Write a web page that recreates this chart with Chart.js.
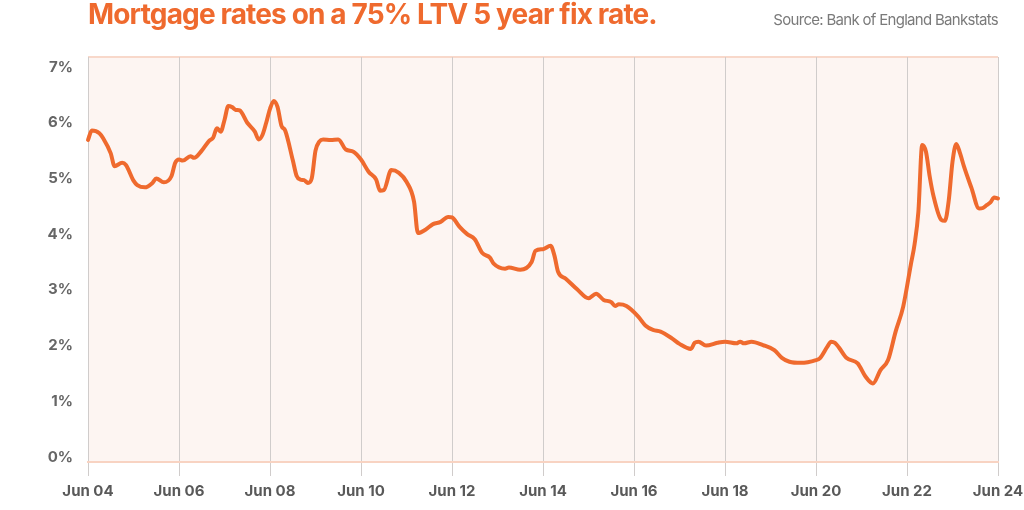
<!DOCTYPE html>
<html>
<head>
<meta charset="utf-8">
<script src="https://cdn.jsdelivr.net/npm/chart.js@4.4.1/dist/chart.umd.min.js"></script>
<style>
  html, body { margin: 0; padding: 0; background: #fff; }
  .wrap { position: relative; width: 1024px; height: 510px; }
  .title {
    position: absolute; left: 88px; top: -3px;
    font: 700 28px "Inter", sans-serif; letter-spacing: -0.85px;
    color: #ef6a2e; white-space: nowrap;
  }
  .source {
    position: absolute; right: 26px; top: 10px;
    font: 400 15px "Inter", sans-serif; letter-spacing: -0.7px;
    color: #7a7a7a; white-space: nowrap;
  }
  canvas { position: absolute; left: 0; top: 0; }
</style>
</head>
<body>
<div class="wrap">
  <canvas id="rateChart" width="1024" height="510"></canvas>
  <div class="title">Mortgage rates on a 75% LTV 5 year fix rate.</div>
  <div class="source">Source: Bank of England Bankstats</div>
</div>
<script>
// months counted from Jun 2004
const months = [
  0, 1, 3, 4, 6, 7, 9, 10, 12, 13, 15, 17, 18, 20, 22, 23, 24, 25, 27, 28,
  30, 32, 33, 34, 35, 36, 37, 38, 39, 40, 42, 44, 45, 46, 47, 48, 49, 50, 51, 52,
  54, 55, 56, 57, 58, 59, 60, 61, 62, 64, 66, 68, 70, 72, 74, 76, 77, 78, 80, 82,
  84, 86, 87, 89, 91, 93, 95, 96, 98, 100, 102, 104, 106, 107, 110, 111, 114, 117, 118, 120,
  122, 123, 124, 126, 129, 132, 134, 136, 138, 139, 140, 142, 145, 147, 149, 151, 154, 156, 159, 160,
  161, 163, 166, 168, 171, 172, 173, 175, 178, 181, 183, 185, 188, 192, 193, 195, 196, 197, 198, 200,
  203, 205, 207, 209, 211, 213, 215, 217, 218, 219, 220, 221, 222, 223, 225, 226, 227, 228, 229, 230,
  231, 233, 235, 236, 237, 238, 239, 240
];
const rates = [
  5.69, 5.86, 5.81, 5.72, 5.45, 5.22, 5.28, 5.24, 4.96, 4.88, 4.84, 4.92, 5.00, 4.93, 5.04, 5.28, 5.34, 5.32, 5.40, 5.37,
  5.50, 5.68, 5.73, 5.90, 5.84, 6.05, 6.30, 6.28, 6.23, 6.22, 6.00, 5.84, 5.70, 5.78, 6.00, 6.25, 6.39, 6.28, 5.95, 5.86,
  5.33, 5.05, 4.98, 4.97, 4.92, 5.00, 5.50, 5.66, 5.70, 5.69, 5.70, 5.52, 5.48, 5.34, 5.12, 4.98, 4.78, 4.79, 5.15, 5.10,
  4.94, 4.58, 4.02, 4.08, 4.18, 4.22, 4.31, 4.30, 4.13, 4.00, 3.91, 3.66, 3.58, 3.47, 3.38, 3.40, 3.36, 3.50, 3.70, 3.73,
  3.79, 3.62, 3.32, 3.20, 3.01, 2.85, 2.93, 2.82, 2.78, 2.71, 2.74, 2.71, 2.53, 2.36, 2.28, 2.25, 2.13, 2.03, 1.94, 2.05,
  2.07, 2.00, 2.05, 2.07, 2.04, 2.07, 2.04, 2.07, 2.01, 1.92, 1.78, 1.71, 1.69, 1.74, 1.77, 1.98, 2.07, 2.05, 1.97, 1.78,
  1.68, 1.45, 1.32, 1.56, 1.74, 2.25, 2.70, 3.45, 3.82, 4.40, 5.60, 5.48, 5.03, 4.68, 4.26, 4.24, 4.60, 5.30, 5.62, 5.45,
  5.22, 4.83, 4.46, 4.47, 4.52, 4.57, 4.66, 4.64
];
const tickYears = ["04", "06", "08", "10", "12", "14", "16", "18", "20", "22", "24"];
const yTicks = [0, 1, 2, 3, 4, 5, 6, 7];

const orange = "#ef6a2e";

const plotBackground = {
  id: "plotBackground",
  beforeDraw(chart) {
    const { ctx, chartArea: a } = chart;
    ctx.save();
    ctx.fillStyle = "#fdf5f2";
    ctx.fillRect(a.left, a.top, a.right - a.left, a.bottom - a.top);
    ctx.strokeStyle = "#f8d8ca";
    ctx.lineWidth = 2;
    ctx.beginPath();
    ctx.moveTo(a.left, a.top);
    ctx.lineTo(a.right, a.top);
    ctx.stroke();
    ctx.restore();
  },
};

let ctx = document.getElementById("rateChart").getContext("2d");

new Chart(ctx, {
  type: "line",
  data: {
    datasets: [
      {
        data: months.map((m, i) => ({ x: m, y: rates[i] })),
        borderColor: orange,
        borderWidth: 4,
        pointRadius: 0,
        cubicInterpolationMode: "monotone",
        borderCapStyle: "round",
        borderJoinStyle: "round",
        clip: false,
      },
    ],
  },
  options: {
    responsive: false,
    animation: false,
    layout: { padding: { left: 0, right: 26, top: 57, bottom: 0 } },
    plugins: {
      legend: { display: false },
      tooltip: { enabled: false },
    },
    scales: {
      x: {
        type: "linear",
        min: 0,
        max: 240,
        afterBuildTicks: (scale) => {
          scale.ticks = tickYears.map((y, i) => ({ value: i * 24 }));
        },
        afterFit: (scale) => {
          scale.height = 48;
          scale.paddingLeft = 0;
          scale.paddingRight = 0;
        },
        ticks: {
          callback: (v) => "Jun " + tickYears[Math.round(v / 24)],
          color: "#595959",
          font: { family: "Inter", size: 15, weight: "bold" },
          padding: 6,
          maxRotation: 0,
          autoSkip: false,
        },
        grid: {
          color: "#d0cccb",
          lineWidth: 1,
          tickLength: 14,
        },
        border: { color: "#f8d3c2", width: 2 },
      },
      y: {
        min: -0.09,
        max: 7.18,
        afterBuildTicks: (scale) => {
          scale.ticks = yTicks.map((v) => ({ value: v }));
        },
        afterFit: (scale) => {
          scale.width = 88;
        },
        ticks: {
          callback: (v) => v + "%",
          color: "#666666",
          font: { family: "Inter", size: 15, weight: "bold" },
          padding: 15,
        },
        grid: { display: false, drawTicks: false },
        border: { display: false },
      },
    },
  },
  plugins: [plotBackground],
});
</script>
</body>
</html>
